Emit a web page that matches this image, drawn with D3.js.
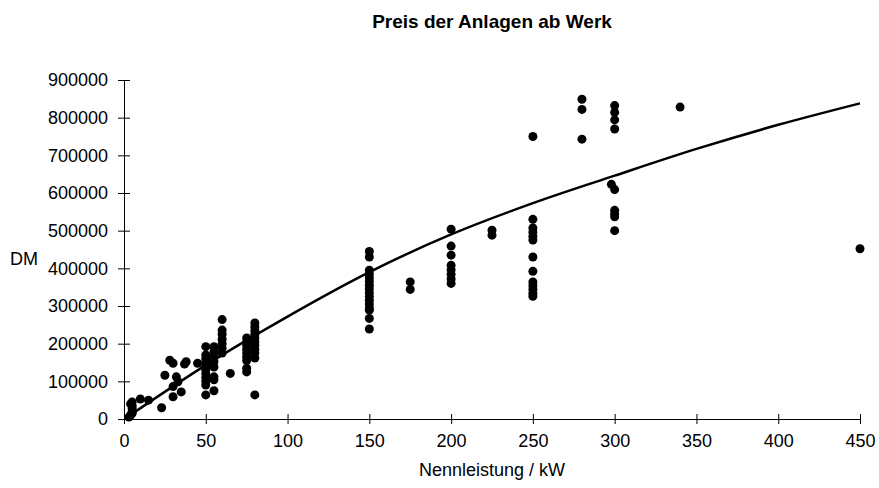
<!DOCTYPE html>
<html>
<head>
<meta charset="utf-8">
<script src="https://cdn.jsdelivr.net/npm/d3@7"></script>
<style>
	body { margin: 0; background: #fff; }
	svg { display: block; font-family: Arial, "Liberation Sans", sans-serif; }
	.axis path, .axis line { stroke: #000; stroke-width: 1; }
	.axis text { font-size: 18px; fill: #000; }
</style>
</head>
<body>
<svg id="chart"></svg>
<script>
const width = 879, height = 488;
const margin = { top: 80, right: 19, bottom: 69, left: 124 };

// Anlagen: Nennleistung (kW) und Preis ab Werk (DM)
const powerKW = [
	3, 4, 4, 5, 5, 5, 5, 5, 10, 15, 23, 25, 28, 30, 30, 30, 32, 33, 35, 37, 38, 45,
	50, 50, 50, 50, 50, 50, 50, 50, 50, 50, 50,
	55, 55, 55, 55, 55, 55, 55, 55,
	60, 60, 60, 60, 60, 60, 60, 65,
	75, 75, 75, 75, 75, 75, 75, 75, 75,
	80, 80, 80, 80, 80, 80, 80, 80, 80, 80, 80,
	150, 150, 150, 150, 150, 150, 150, 150, 150, 150, 150, 150, 150, 150, 150, 150,
	175, 175,
	200, 200, 200, 200, 200, 200, 200, 200,
	225, 225,
	250, 250, 250, 250, 250, 250, 250, 250, 250, 250, 250, 250, 250,
	280, 280, 280,
	300, 300, 300, 300, 298, 300, 300, 300, 300, 300,
	340, 450
];
const priceDM = [
	5000, 10000, 40000, 15000, 20000, 28000, 35000, 45000, 53000, 50000, 30000, 116000, 156000, 148000, 86000, 59000, 112000, 99000, 72000, 146000, 152000, 148000,
	192000, 170000, 160000, 150000, 140000, 130000, 120000, 110000, 100000, 90000, 64000,
	192000, 178000, 165000, 152000, 138000, 112000, 104000, 75000,
	264000, 236000, 225000, 212000, 200000, 188000, 175000, 121000,
	215000, 205000, 195000, 185000, 175000, 165000, 155000, 135000, 125000,
	255000, 245000, 235000, 225000, 215000, 205000, 195000, 185000, 175000, 162000, 64000,
	445000, 430000, 395000, 385000, 375000, 365000, 355000, 345000, 335000, 325000, 315000, 305000, 295000, 289000, 267000, 239000,
	364000, 344000,
	504000, 459000, 435000, 408000, 396000, 384000, 372000, 360000,
	501000, 488000,
	750000, 530000, 507000, 496000, 485000, 475000, 430000, 392000, 364000, 354000, 344000, 334000, 326000,
	849000, 822000, 743000,
	832000, 814000, 794000, 770000, 623000, 609000, 554000, 545000, 537000, 500000,
	828000, 452000
];

// trend line
const trendKW = [3, 50, 100, 150, 200, 250, 300, 350, 400, 450];
const trendDM = [8000, 143000, 272000, 390000, 490000, 573000, 646000, 717000, 781000, 838000];

const xTicks = [0, 50, 100, 150, 200, 250, 300, 350, 400, 450];
const yTicks = [0, 100000, 200000, 300000, 400000, 500000, 600000, 700000, 800000, 900000];

const chartTitle = 'Preis der Anlagen ab Werk';
const xTitle = 'Nennleistung / kW';
const yTitle = 'DM';

const xScale = d3.scaleLinear()
	.domain([0, 450])
	.range([margin.left, width - margin.right]);

const yScale = d3.scaleLinear()
	.domain([0, 900000])
	.range([height - margin.bottom, margin.top]);

const constructAxes = (canvas) => {
	const xAxis = canvas.append('g')
		.attr('class', 'x axis')
		.attr('transform', `translate(0,${height - margin.bottom})`)
		.call(d3.axisBottom(xScale)
			.tickValues(xTicks)
			.tickSizeInner(5)
			.tickSizeOuter(0)
			.tickPadding(10)
			.tickFormat(d3.format('d')));
	// ticks cross the axis line
	xAxis.selectAll('.tick line').attr('y1', -5).attr('y2', 5);

	const yAxis = canvas.append('g')
		.attr('class', 'y axis')
		.attr('transform', `translate(${margin.left},0)`)
		.call(d3.axisLeft(yScale)
			.tickValues(yTicks)
			.tickSizeInner(6)
			.tickSizeOuter(0)
			.tickPadding(10)
			.tickFormat(d3.format('d')));
	yAxis.selectAll('.tick line').attr('x1', -6).attr('x2', 6);
};

const populatePoints = (canvas) => {
	canvas.append('g')
		.selectAll('circle')
		.data(powerKW.map((kw, i) => ({ kw: kw, dm: priceDM[i] })))
		.enter()
		.append('circle')
		.attr('cx', d => xScale(d.kw))
		.attr('cy', d => yScale(d.dm))
		.attr('r', 4.5)
		.style('fill', '#000');
};

const populateTrend = (canvas) => {
	const line = d3.line()
		.x(d => xScale(d[0]))
		.y(d => yScale(d[1]))
		.curve(d3.curveMonotoneX);

	canvas.append('path')
		.datum(trendKW.map((kw, i) => [kw, trendDM[i]]))
		.attr('d', line)
		.style('fill', 'none')
		.style('stroke', '#000')
		.style('stroke-width', 2.5);
};

const addTitles = (canvas) => {
	const cx = (margin.left + width - margin.right) / 2;

	canvas.append('text')
		.attr('x', cx)
		.attr('y', 28)
		.attr('text-anchor', 'middle')
		.style('font-size', '19px')
		.style('font-weight', 'bold')
		.text(chartTitle);

	canvas.append('text')
		.attr('x', cx)
		.attr('y', 476)
		.attr('text-anchor', 'middle')
		.style('font-size', '18px')
		.text(xTitle);

	canvas.append('text')
		.attr('x', 24)
		.attr('y', 265)
		.attr('text-anchor', 'middle')
		.style('font-size', '18px')
		.text(yTitle);
};

const canvas = d3.select('#chart')
	.attr('width', width)
	.attr('height', height);

constructAxes(canvas);
populateTrend(canvas);
populatePoints(canvas);
addTitles(canvas);
</script>
</body>
</html>
